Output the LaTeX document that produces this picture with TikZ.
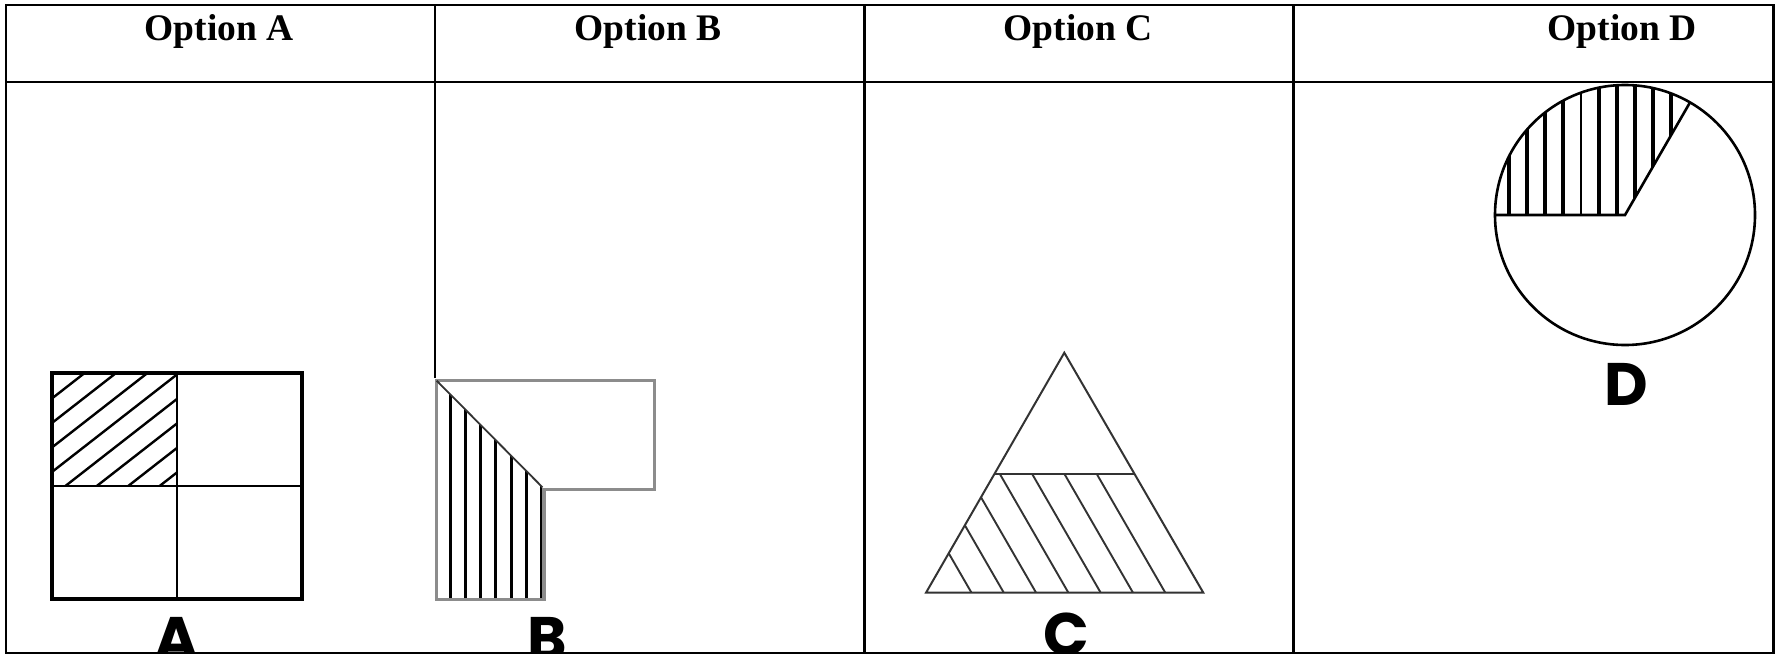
\documentclass[tikz,border=0pt]{standalone}
\usepackage{fontspec}
\usepackage{tikz}
\usepackage{xcolor}
\usetikzlibrary{positioning}
\setmainfont{Liberation Serif}
\newfontfamily\letterfont{Poppins}
\definecolor{ink}{HTML}{000000}
\definecolor{edgegray}{HTML}{8C8C8C}
\definecolor{trigray}{HTML}{333333}
\tikzset{
  tableline/.style={draw=ink,line width=2.4pt},
  headtext/.style={font=\fontsize{37.5}{40}\selectfont\bfseries,
                   anchor=base,inner sep=0pt},
  figletter/.style={font=\fontsize{60}{60}\letterfont\bfseries,
                    anchor=north,inner sep=0pt},
  hatchline/.style={draw=ink,line width=2.4pt},
  shapeline/.style={draw=ink,line width=2.6pt}
}
\begin{document}
\begin{tikzpicture}[x=1pt,y=-1pt]
    \path[use as bounding box] (0,0) rectangle (1775,654);
    % letters under the figures, cut by the frame
    \begin{scope}
      \clip (5.7,4.7) rectangle (1773.5,652.7);
      \node[figletter] (labA) at (177,617) {A};
      \node[figletter] (labB) at (547.7,616.7) {B};
      \node[figletter] (labC) at (1066,613) {C};
      \node[figletter] (labD) at (1626,363) {D};
    \end{scope}
    % table
    \draw[tableline] (5.7,4.7) rectangle (1773.5,652.7);
    \draw[tableline] (5.7,82) -- (1493,82) (1755,82) -- (1773.5,82);
    \draw[ink,line width=1.2pt] (1493,82) -- (1755,82);
    \draw[tableline] (434.7,4.7) -- (434.7,377.7);
    \draw[tableline] (864.3,4.7) -- (864.3,652.7);
    \draw[tableline] (1293.3,4.7) -- (1293.3,652.7);
    \node[headtext] (optA) at (219,40) {Option A};
    \node[headtext] (optB) at (648,40) {Option B};
    \node[headtext] (optC) at (1078,40) {Option C};
    \node[headtext] (optD) at (1622,40) {Option D};
    % option A
    \begin{scope}
      \clip (52.3,374.3) rectangle (177,486);
      \foreach \k in {0,...,7}
        \draw[hatchline] (40,{439+24.5*\k-0.78*40}) -- (190,{439+24.5*\k-0.78*190});
    \end{scope}
    \draw[ink,line width=2.8pt] (177,373) -- (177,599) (52,486) -- (302,486);
    \draw[ink,line width=4.4pt] (52,373) rectangle (302,599);
    % option B
    \begin{scope}
      \clip (436.7,380.7) -- (542.5,487.3) -- (542.5,599.3) -- (436.7,599.3) -- cycle;
      \foreach \k in {0,...,6}
        \draw[hatchline,line width=3pt] ({450+15.3*\k},370) -- ({450+15.3*\k},610);
    \end{scope}
    \draw[edgegray,line width=3.2pt] (436.7,380.7) -- (654.3,380.7) -- (654.3,489.3)
      -- (544,489.3) -- (544,599.3) -- (436.7,599.3) -- cycle;
    \draw[trigray,line width=1.8pt] (436.7,380.7) -- (542.5,487.3);
    % option C
    \begin{scope}
      \clip (994.1,474.3) -- (1134.5,474.3) -- (1203.3,592.7) -- (926,592.7) -- cycle;
      \foreach \k in {0,...,6}
        \draw[trigray,line width=1.9pt] ({975.7+32.3*\k},600) -- ++(-180.1,-312);
    \end{scope}
    \draw[trigray,line width=2pt] (1064.3,352.7) -- (1203.3,592.7) -- (926,592.7) -- cycle;
    \draw[trigray,line width=2pt] (994.1,474.3) -- (1134.5,474.3);
    % option D
    \begin{scope}
      \clip (1625,215) -- (1495,215) arc[start angle=180,end angle=60,radius=130pt] -- cycle;
      \foreach \xx/\ww in {1509/3.2,1527/3.2,1545/3.2,1563/3.2,1581/1.6,
                           1599/3.2,1617/3.2,1635/3.2,1653/3.2,1671/3.2}
        \draw[ink,line width=\ww pt] (\xx,80) -- (\xx,216);
    \end{scope}
    \draw[shapeline] (1625,215) circle[radius=130pt];
    \draw[shapeline] (1495,215) -- (1625,215) -- ++(60:130pt);
  \end{tikzpicture}
\end{document}
